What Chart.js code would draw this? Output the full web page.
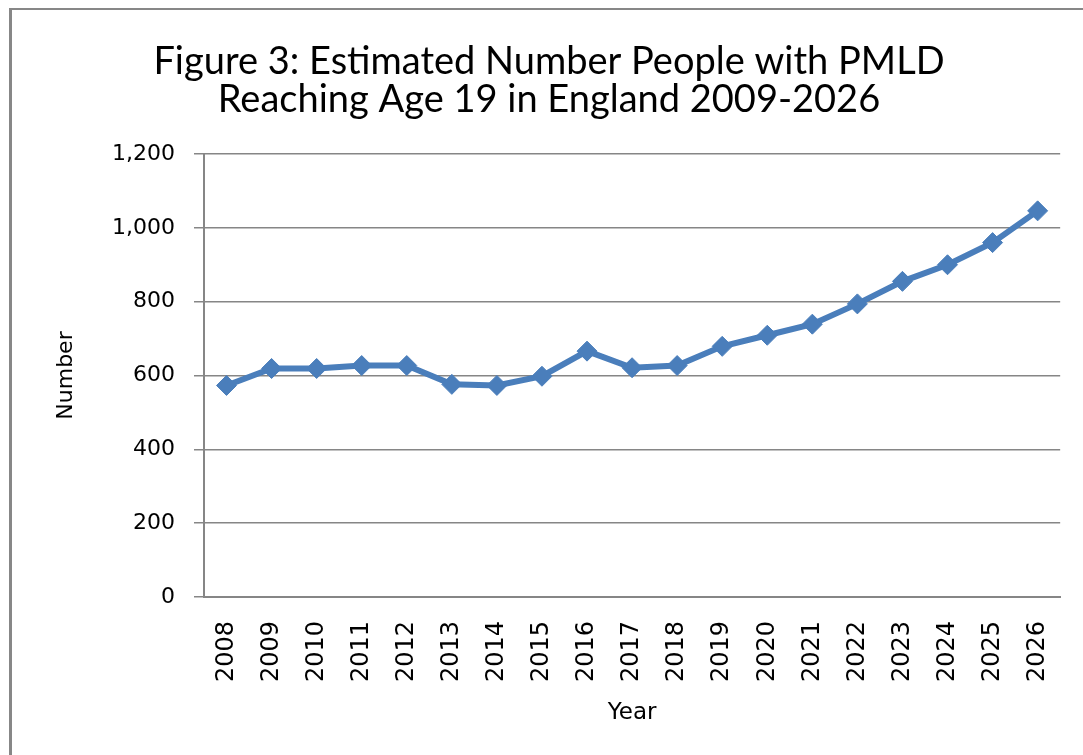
<!DOCTYPE html>
<html>
<head>
<meta charset="utf-8">
<script src="https://cdn.jsdelivr.net/npm/chart.js@4.4.0/dist/chart.umd.min.js"></script>
<style>
	html, body { margin: 0; padding: 0; background: #fff; overflow: hidden; }
	#frame {
		position: absolute; left: 9px; top: 8px; width: 1200px; height: 900px;
		border-left: 3px solid #878787; border-top: 2px solid #878787;
	}
	#myChart { position: absolute; left: 0; top: 0; }
</style>
</head>
<body>
<div id="frame"></div>
<canvas id="myChart" width="1083" height="755"></canvas>
<script>
const titleLines = ['Figure 3: Estimated Number People with PMLD', 'Reaching Age 19 in England 2009-2026'];
const years = ['2008', '2009', '2010', '2011', '2012', '2013', '2014', '2015', '2016', '2017',
	'2018', '2019', '2020', '2021', '2022', '2023', '2024', '2025', '2026'];
const numbers = [573, 619, 619, 627, 627, 576, 573, 598, 666, 621,
	627, 679, 709, 739, 794, 855, 900, 960, 1046];
const yTicks = [0, 200, 400, 600, 800, 1000, 1200];

const axisGrey = '#868686';
const lineBlue = '#4A7EBB';

drawChart();

function drawChart() {
	const data = {
		labels: years,
		datasets: [{
			label: 'Number',
			data: numbers,
			borderColor: lineBlue,
			backgroundColor: lineBlue,
			borderWidth: 6,
			pointStyle: 'rectRot',
			pointRadius: 10,
			pointBackgroundColor: lineBlue,
			pointBorderColor: lineBlue,
			pointBorderWidth: 1,
			tension: 0
		}]
	};

	// config
	const config = {
		type: 'line',
		data,
		options: {
			responsive: false,
			animation: false,
			// left padding moves the title centre over the framed area
			layout: { padding: { left: 36, right: 21, top: 0, bottom: 0 } },
			plugins: {
				legend: { display: false },
				tooltip: { enabled: false },
				title: {
					display: true,
					text: titleLines,
					color: '#000',
					font: { family: 'Lato', size: 38, weight: 'normal', lineHeight: 1 },
					padding: { top: 43, bottom: 35 }
				}
			},
			scales: {
				x: {
					offset: true,
					grid: { display: false },
					border: { display: true, color: axisGrey, width: 2 },
					ticks: {
						color: '#000',
						font: { family: 'DejaVu Sans', size: 24 },
						minRotation: 90,
						maxRotation: 90,
						autoSkip: false,
						padding: 16
					},
					title: {
						display: true,
						text: 'Year',
						color: '#000',
						font: { family: 'DejaVu Sans', size: 23 },
						padding: { top: 0, bottom: 28 }
					},
					afterFit: scale => { scale.height = 158; }
				},
				y: {
					min: 0,
					max: 1200,
					afterBuildTicks: scale => { scale.ticks = yTicks.map(v => ({ value: v })); },
					grid: { color: axisGrey, lineWidth: 1.5, tickLength: 10 },
					border: { display: true, color: axisGrey, width: 2 },
					ticks: {
						color: '#000',
						font: { family: 'DejaVu Sans', size: 22 },
						padding: 19,
						callback: v => v.toLocaleString('en-US')
					},
					title: {
						display: true,
						text: 'Number',
						color: '#000',
						font: { family: 'DejaVu Sans', size: 22 },
						padding: { top: 17, bottom: 0 }
					},
					afterFit: scale => { scale.width = 168; }
				}
			}
		}
	};

	// render init block
	const myChart = new Chart(
		document.getElementById('myChart'),
		config
	);
}
</script>
</body>
</html>
